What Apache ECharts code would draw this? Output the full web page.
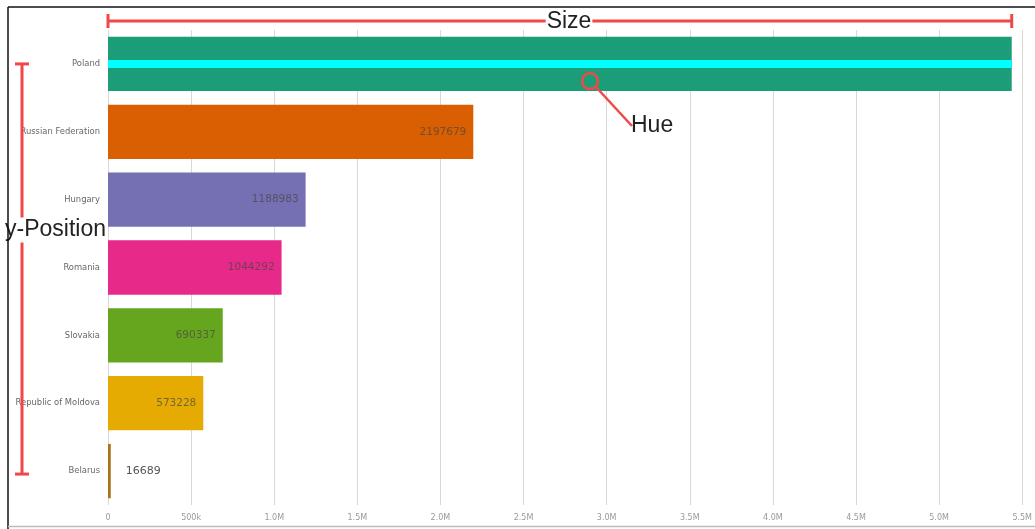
<!DOCTYPE html>
<html>
<head>
<meta charset="utf-8">
<script src="https://cdn.jsdelivr.net/npm/echarts@6/dist/echarts.min.js"></script>
<style>
html,body{margin:0;padding:0;background:#fff;}
#chart{width:1035px;height:529px;}
</style>
</head>
<body>
<div id="chart"></div>
<script>
const categories = ['Poland', 'Russian Federation', 'Hungary', 'Romania', 'Slovakia', 'Republic of Moldova', 'Belarus'];
const values = [5437000, 2197679, 1188983, 1044292, 690337, 573228, 16689];
const tickValues = [0, 500000, 1000000, 1500000, 2000000, 2500000, 3000000, 3500000, 4000000, 4500000, 5000000, 5500000];
const tickLabels = ['0', '500k', '1.0M', '1.5M', '2.0M', '2.5M', '3.0M', '3.5M', '4.0M', '4.5M', '5.0M', '5.5M'];
const palette = ['#1b9e77', '#d95f02', '#7570b3', '#e7298a', '#66a61e', '#e6ab02', '#a6761d'];

const chart = echarts.init(document.getElementById('chart'));
const RED = '#f04848';
const FONT = 'Liberation Sans, Arial, sans-serif';

const barData = values.map((v, i) => {
  const item = { value: v, itemStyle: { color: palette[i] } };
  if (i === 0) item.label = { show: false };
  if (v < 200000) item.label = { position: 'right', distance: 15, color: '#555', fontSize: 11 };
  return item;
});

const option = {
  animation: false,
  grid: { left: 108, right: 9, top: 30, bottom: 24 },
  xAxis: {
    type: 'value', min: 0, max: 5500000, interval: 500000,
    axisLine: { show: false }, axisTick: { show: false },
    splitLine: { show: true, lineStyle: { color: '#d8d8d8', width: 1 } },
    axisLabel: {
      fontSize: 8, color: '#999', margin: 9, fontFamily: 'DejaVu Sans',
      formatter: v => { const k = tickValues.indexOf(v); return k >= 0 ? tickLabels[k] : ''; }
    }
  },
  yAxis: {
    type: 'category', data: categories, inverse: true,
    axisLine: { show: false }, axisTick: { show: false },
    axisLabel: { fontSize: 8.4, color: '#666', margin: 8, fontFamily: 'DejaVu Sans' }
  },
  series: [{
    type: 'bar', data: barData, barCategoryGap: '20%',
    label: { show: true, position: 'insideRight', distance: 7, color: 'rgba(70,70,70,0.7)', fontSize: 10.5, fontFamily: 'DejaVu Sans' }
  }]
};
chart.setOption(option);

// annotation geometry derived from the axes
const p0 = chart.convertToPixel({ gridIndex: 0 }, [0, 0]);
const pTop = chart.convertToPixel({ gridIndex: 0 }, [values[0], 0]);
const pBot = chart.convertToPixel({ gridIndex: 0 }, [0, categories.length - 1]);
const x0 = p0[0], xEnd = pTop[0], yTop = pTop[1], yBot = pBot[1];
const sizeY = 21;
const lineStyle = { stroke: RED, lineWidth: 3 };

chart.setOption({
  graphic: [
    // frame
    { type: 'line', shape: { x1: 8, y1: 7, x2: 1035, y2: 7 }, style: { stroke: '#111', lineWidth: 1.5 }, z: 100 },
    { type: 'line', shape: { x1: 8, y1: 7, x2: 8, y2: 529 }, style: { stroke: '#111', lineWidth: 1.5 }, z: 100 },
    { type: 'line', shape: { x1: 8, y1: 526.5, x2: 1035, y2: 526.5 }, style: { stroke: '#bbb', lineWidth: 1.5 }, z: 100 },
    // cyan hue stripe over the top bar
    { type: 'rect', shape: { x: x0, y: yTop - 4, width: xEnd - x0, height: 8 }, style: { fill: '#00ffff' }, z: 50 },
    // Size
    { type: 'line', shape: { x1: x0, y1: sizeY, x2: xEnd, y2: sizeY }, style: lineStyle, z: 60 },
    { type: 'line', shape: { x1: x0, y1: sizeY - 7, x2: x0, y2: sizeY + 7 }, style: lineStyle, z: 60 },
    { type: 'line', shape: { x1: xEnd, y1: sizeY - 7, x2: xEnd, y2: sizeY + 7 }, style: lineStyle, z: 60 },
    { type: 'text', x: 569, y: sizeY + 1, style: { text: 'Size', fontSize: 23, fontFamily: FONT, fill: '#222', align: 'center', verticalAlign: 'middle', backgroundColor: '#fff', padding: [0, 1] }, z: 70 },
    // Hue
    { type: 'circle', shape: { cx: 590, cy: 81, r: 8 }, style: { fill: 'none', stroke: RED, lineWidth: 2.5 }, z: 60 },
    { type: 'line', shape: { x1: 596, y1: 87, x2: 632, y2: 126 }, style: { stroke: RED, lineWidth: 2.5 }, z: 60 },
    { type: 'text', x: 631, y: 126, style: { text: 'Hue', fontSize: 23, fontFamily: FONT, fill: '#222', align: 'left', verticalAlign: 'middle' }, z: 70 },
    // y-Position
    { type: 'line', shape: { x1: 22, y1: yTop, x2: 22, y2: yBot + 3 }, style: lineStyle, z: 60 },
    { type: 'line', shape: { x1: 15, y1: yTop, x2: 29, y2: yTop }, style: lineStyle, z: 60 },
    { type: 'line', shape: { x1: 15, y1: yBot + 3, x2: 29, y2: yBot + 3 }, style: lineStyle, z: 60 },
    { type: 'text', x: 106, y: 230, style: { text: 'y-Position', fontSize: 23, fontFamily: FONT, fill: '#222', align: 'right', verticalAlign: 'middle', backgroundColor: '#fff', padding: [1, 0] }, z: 70 }
  ]
});
</script>
</body>
</html>
